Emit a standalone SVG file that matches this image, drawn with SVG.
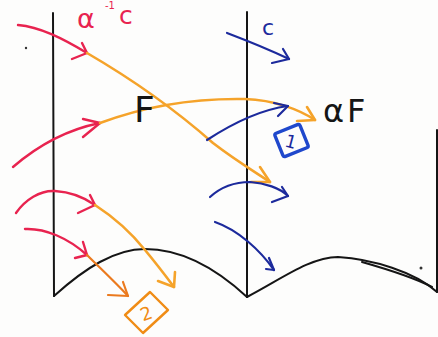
<svg xmlns="http://www.w3.org/2000/svg" width="438" height="337" viewBox="0 0 438 337">
<style>
.bg{fill:#fdfdfc}
.wall{fill:none;stroke:#151515;stroke-width:2;stroke-linecap:round;stroke-linejoin:round}
.red{fill:none;stroke:#e8234f;stroke-width:2.4;stroke-linecap:round;stroke-linejoin:round}
.org{fill:none;stroke:#f5a32a;stroke-width:2.6;stroke-linecap:round;stroke-linejoin:round}
.org2{fill:none;stroke:#eb7a1e;stroke-width:2.2;stroke-linecap:round;stroke-linejoin:round}
.blu{fill:none;stroke:#1c2a9c;stroke-width:2.2;stroke-linecap:round;stroke-linejoin:round}
.lbl{font-family:"DejaVu Sans","Liberation Sans",sans-serif;font-weight:normal}
</style>
<rect class="bg" x="0" y="0" width="438" height="337"/>
<g id="walls">
<line class="wall" x1="53" y1="13" x2="54" y2="296"/>
<line class="wall" x1="247" y1="12" x2="247" y2="297"/>
<line class="wall" x1="437" y1="130" x2="437" y2="292"/>
<path class="wall" d="M54,296 C85,268 115,249 145,249 C185,249 220,272 247,297"/>
<path class="wall" d="M247,297 C280,280 310,257 338,257 C372,259 415,272 437,292"/>
<path class="wall" d="M362,262 C390,270 415,278 432,287" stroke-width="1.4"/>
<circle cx="26" cy="48" r="1.2" fill="#333"/>
<circle cx="421" cy="268" r="1.5" fill="#333"/>
</g>
<g id="connectors">
<path class="red" d="M18,25 C40,27 62,38 87,53"/>
<path class="red" d="M82,43 L87,53 L72,59"/>
<path class="red" d="M13,167 C35,148 65,130 100,123"/>
<path class="red" d="M83,119 L100,123 L83,137"/>
<path class="red" d="M16,213 C25,200 40,190 55,191 C72,192 85,198 95,205"/>
<path class="red" d="M90,195 L95,205 L78,213"/>
<path class="red" d="M25,229 C45,228 68,238 87,255"/>
<path class="red" d="M83,242 L87,255 L75,258"/>
<path class="org" d="M87,53 C130,78 170,105 213,143 C235,160 255,172 270,182"/>
<path class="org" d="M260,167 L270,182 L251,182"/>
<path class="org" d="M100,123 C140,108 190,98 245,99 C275,100 300,110 315,120"/>
<path class="org" d="M307,107 L315,120 L297,121"/>
<path class="org" d="M95,205 C115,218 133,235 145,250 C155,262 165,275 174,287"/>
<path class="org" d="M175,272 L174,287 L158,281"/>
<path class="org2" d="M87,255 C100,268 115,282 128,296"/>
<path class="org2" d="M123,282 L128,296 L108,295"/>
<path class="blu" d="M227,33 C248,41 270,50 289,59"/>
<path class="blu" d="M283,49 L289,59 L272,63"/>
<path class="blu" d="M207,140 C230,125 258,110 288,106"/>
<path class="blu" d="M274,103 L288,106 L278,116"/>
<path class="blu" d="M210,197 C222,186 237,182 250,182 C265,183 280,188 288,196"/>
<path class="blu" d="M282,187 L288,196 L272,202"/>
<path class="blu" d="M215,222 C238,230 260,250 274,270"/>
<path class="blu" d="M269,258 L274,270 L266,269"/>
</g>
<g id="label-alpha-inv-c">
<text class="lbl" x="77" y="28" font-size="27" fill="#e8234f">α</text>
<text class="lbl" x="105" y="9" font-size="10" fill="#e8234f">-1</text>
<text class="lbl" x="119" y="24" font-size="25" fill="#e8234f">c</text>
</g>
<g id="label-c">
<text class="lbl" x="262" y="35" font-size="22" fill="#1c2a9c">c</text>
</g>
<g id="label-F">
<text class="lbl" x="134" y="122" font-size="36" fill="#151515">F</text>
</g>
<g id="label-alphaF">
<text class="lbl" x="323" y="122" font-size="32" fill="#151515">α<tspan dx="3">F</tspan></text>
</g>
<g id="box-1">
<rect x="278" y="128" width="27" height="25" fill="none" stroke="#1f48cc" stroke-width="3.4" stroke-linejoin="round" rx="2" transform="rotate(-22 291.5 140.5)"/>
<text class="lbl" x="291" y="148" font-size="18" fill="#1c2a9c" text-anchor="middle" transform="rotate(15 291 141)">1</text>
</g>
<g id="box-2">
<polygon points="150,292 168,310 143,333 125,315" fill="none" stroke="#f08c15" stroke-width="2.4" stroke-linejoin="round"/>
<text class="lbl" x="146" y="320" font-size="18" fill="#f08c15" text-anchor="middle" transform="rotate(-20 146 313)">2</text>
</g>
</svg>
